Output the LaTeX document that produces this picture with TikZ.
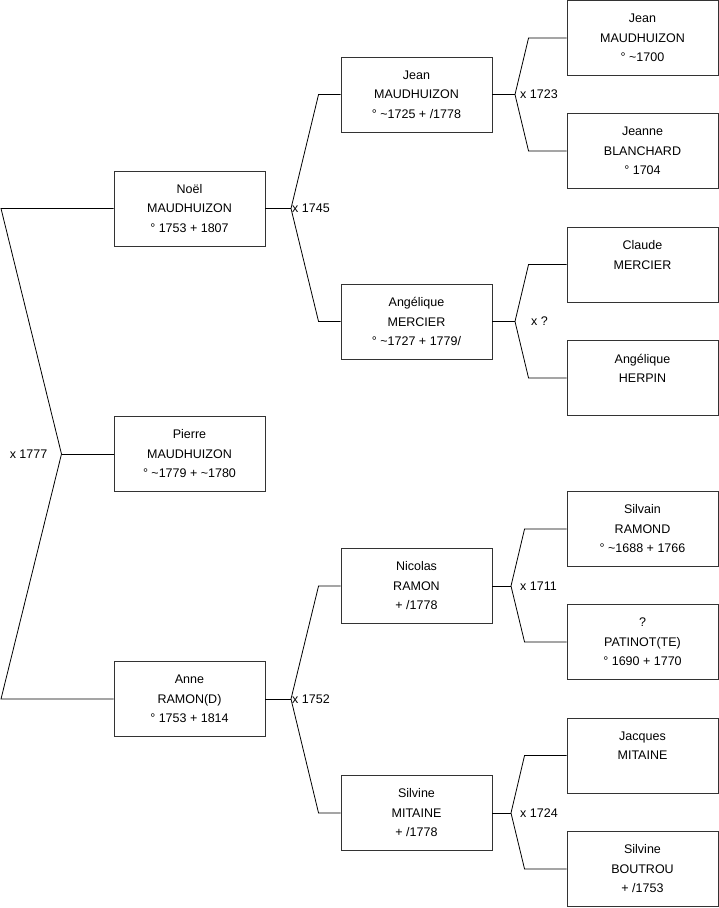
\documentclass[tikz,border=0pt]{standalone}
\usepackage{fontspec}
\setmainfont{Liberation Sans}
\usetikzlibrary{positioning}

\tikzset{
  personne/.style={draw=black!80, line width=0.9pt, minimum width=151pt, minimum height=75pt,
    inner sep=0pt, align=center, font=\fontsize{12.5}{19.5}\selectfont},
  lien/.style={line width=0.8pt, black},
  mariage/.style={font=\fontsize{12.5}{15}\selectfont, inner sep=0pt}
}

\begin{document}
\begin{tikzpicture}[x=1pt,y=-1pt]
\useasboundingbox (0,0) rectangle (719,908);

% Enfants
\node[personne] (noel)   at (189.5,208.5) {Noël\\MAUDHUIZON\\° 1753 + 1807};
\node[personne] (pierre) at (189.5,454)   {Pierre\\MAUDHUIZON\\° \textasciitilde1779 + \textasciitilde1780};
\node[personne] (anne)   at (189.5,699)   {Anne\\RAMON(D)\\° 1753 + 1814};

% Parents
\node[personne] (jean)      at (416.5,94.5)  {Jean\\MAUDHUIZON\\° \textasciitilde1725 + /1778};
\node[personne] (angelique) at (416.5,321.5) {Angélique\\MERCIER\\° \textasciitilde1727 + 1779/};
\node[personne] (nicolas)   at (416.5,586)   {Nicolas\\RAMON\\+ /1778};
\node[personne] (silvine)   at (416.5,813)   {Silvine\\MITAINE\\+ /1778};

% Grands-parents
\node[personne] (jeanP)     at (642.5,38)    {Jean\\MAUDHUIZON\\° \textasciitilde1700};
\node[personne] (jeanne)    at (642.5,151)   {Jeanne\\BLANCHARD\\° 1704};
\node[personne] (claude)    at (642.5,264.5) {Claude\\MERCIER\\\mbox{}};
\node[personne] (herpin)    at (642.5,378)   {Angélique\\HERPIN\\\mbox{}};
\node[personne] (silvain)   at (642.5,529)   {Silvain\\RAMOND\\° \textasciitilde1688 + 1766};
\node[personne] (patinot)   at (642.5,642)   {?\\PATINOT(TE)\\° 1690 + 1770};
\node[personne] (jacques)   at (642.5,755.5) {Jacques\\MITAINE\\\mbox{}};
\node[personne] (boutrou)   at (642.5,869)   {Silvine\\BOUTROU\\+ /1753};

% Mariages
\coordinate (haut) at (1,208.5);
\coordinate (bas)  at (1,699);
\coordinate (u1777) at (61.5,454);
\coordinate (u1745) at (291,208.5);
\coordinate (u1752) at (291,699);
\coordinate (u1723) at (515,94.5);
\coordinate (u0)    at (515,321.5);
\coordinate (u1711) at (511,586);
\coordinate (u1724) at (511,813);

\draw[lien] (noel.west) -- (haut) -- (u1777) -- (bas) -- (anne.west);
\draw[lien] (u1777) -- (pierre.west);
\node[mariage, anchor=east] (m1777) at ([xshift=-14pt]u1777) {x 1777};

\draw[lien] (noel.east) -- (u1745);
\draw[lien] (jean.west) -- ([xshift=-22pt]jean.west) -- (u1745) -- ([xshift=-22pt]angelique.west) -- (angelique.west);
\node[mariage, anchor=west] (m1745) at ([xshift=1pt]u1745) {x 1745};

\draw[lien] (anne.east) -- (u1752);
\draw[lien] (nicolas.west) -- ([xshift=-22pt]nicolas.west) -- (u1752) -- ([xshift=-22pt]silvine.west) -- (silvine.west);
\node[mariage, anchor=west] (m1752) at ([xshift=1pt]u1752) {x 1752};

\draw[lien] (jean.east) -- (u1723);
\draw[lien] (jeanP.west) -- ([xshift=-38pt]jeanP.west) -- (u1723) -- ([xshift=-38pt]jeanne.west) -- (jeanne.west);
\node[mariage, anchor=west] (m1723) at ([xshift=5pt]u1723) {x 1723};

\draw[lien] (angelique.east) -- (u0);
\draw[lien] (claude.west) -- ([xshift=-38pt]claude.west) -- (u0) -- ([xshift=-38pt]herpin.west) -- (herpin.west);
\node[mariage, anchor=west] (m0) at ([xshift=16pt]u0) {x ?};

\draw[lien] (nicolas.east) -- (u1711);
\draw[lien] (silvain.west) -- ([xshift=-42pt]silvain.west) -- (u1711) -- ([xshift=-42pt]patinot.west) -- (patinot.west);
\node[mariage, anchor=west] (m1711) at ([xshift=9pt]u1711) {x 1711};

\draw[lien] (silvine.east) -- (u1724);
\draw[lien] (jacques.west) -- ([xshift=-42pt]jacques.west) -- (u1724) -- ([xshift=-42pt]boutrou.west) -- (boutrou.west);
\node[mariage, anchor=west] (m1724) at ([xshift=9pt]u1724) {x 1724};
\end{tikzpicture}
\end{document}
